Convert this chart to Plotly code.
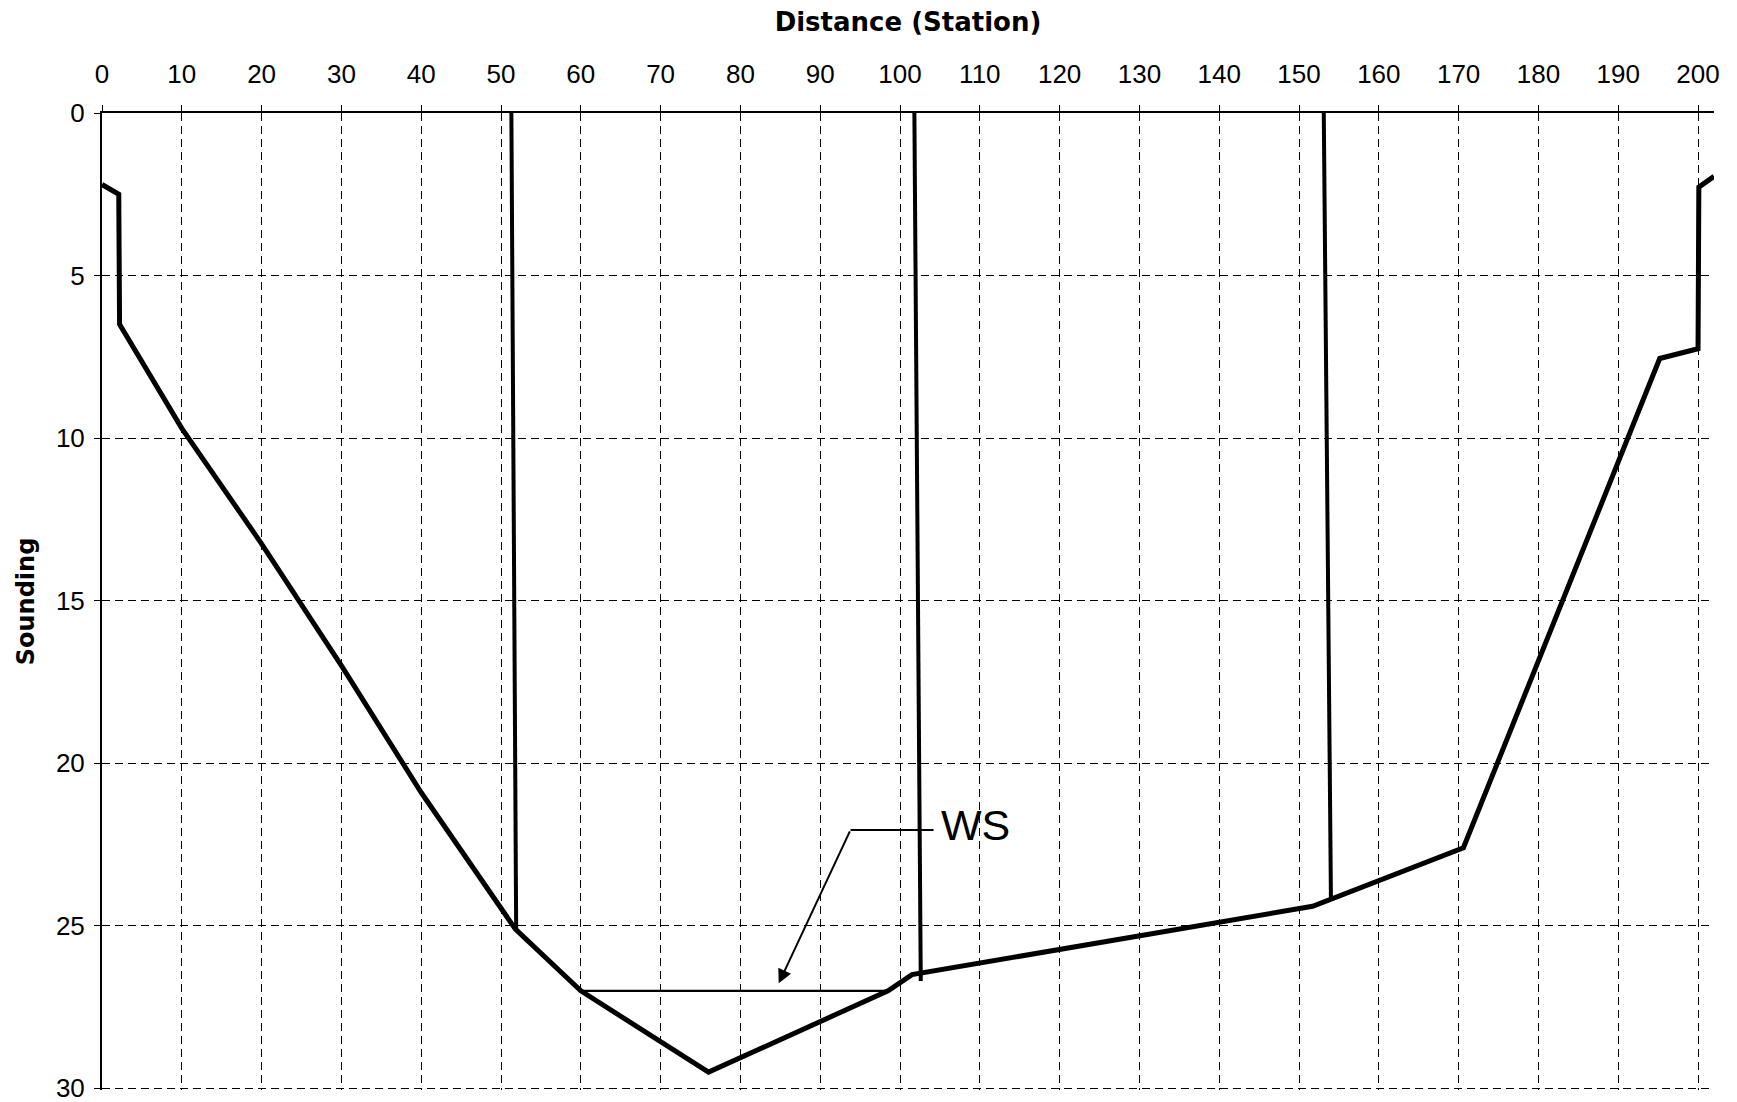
import plotly.graph_objects as go

# ---- data ----
profile_station = [0, 2.1, 2.2, 10, 20, 30, 40, 51.8, 60, 76, 98.5, 101.5, 151.7, 170.6, 195.2, 200.0, 200.1, 202]
profile_sounding = [2.2, 2.5, 6.5, 9.7, 13.25, 17.0, 20.9, 25.1, 27.0, 29.5, 27.0, 26.5, 24.4, 22.6, 7.55, 7.25, 2.28, 1.95]

divider_station_top = [51.3, 101.8, 153.1]
divider_station_bottom = [51.9, 102.6, 154.0]
divider_sounding_top = [0, 0, 0]
divider_sounding_bottom = [25.1, 26.7, 24.2]

ws_station = [59.9, 98.4]
ws_sounding = [27.0, 27.0]

label_text = "WS"
leader_station = [104.2, 93.8, 84.8]
leader_sounding = [22.05, 22.05, 26.77]

x_ticks = list(range(0, 201, 10))
y_ticks = [0, 5, 10, 15, 20, 25, 30]
x_title = "Distance (Station)"
y_title = "Sounding"

# ---- figure ----
fig = go.Figure()

fig.add_trace(go.Scatter(x=profile_station, y=profile_sounding, mode="lines",
                         line=dict(color="black", width=5), hoverinfo="skip", showlegend=False))

dx, dy = [], []
for xt, xb, yt, yb in zip(divider_station_top, divider_station_bottom, divider_sounding_top, divider_sounding_bottom):
    dx += [xt, xb, None]
    dy += [yt, yb, None]
fig.add_trace(go.Scatter(x=dx, y=dy, mode="lines", line=dict(color="black", width=4),
                         hoverinfo="skip", showlegend=False))

fig.add_trace(go.Scatter(x=ws_station, y=ws_sounding, mode="lines",
                         line=dict(color="black", width=2.2), hoverinfo="skip", showlegend=False))

fig.add_trace(go.Scatter(x=leader_station[:2], y=leader_sounding[:2], mode="lines",
                         line=dict(color="black", width=2), hoverinfo="skip", showlegend=False))

fig.add_annotation(x=leader_station[2], y=leader_sounding[2], ax=leader_station[1], ay=leader_sounding[1],
                   xref="x", yref="y", axref="x", ayref="y", text="", showarrow=True,
                   arrowhead=2, arrowsize=1.4, arrowwidth=2, arrowcolor="black", standoff=0)
fig.add_annotation(x=leader_station[0], y=leader_sounding[0], xref="x", yref="y", text=label_text,
                   showarrow=False, xanchor="left", yanchor="middle", xshift=5, yshift=5,
                   font=dict(family="Liberation Sans, Arial", size=43, color="black"))

grid = dict(showgrid=True, gridcolor="black", gridwidth=1.3, griddash="8px,5px",
            showline=True, linecolor="black", linewidth=2, zeroline=False,
            ticks="outside", ticklen=6, tickwidth=1.3, tickcolor="black",
            ticklabeloverflow="allow", automargin=False,
            tickfont=dict(family="Liberation Sans, Arial", size=26, color="black"))

fig.update_xaxes(side="top", range=[0, 202], tickvals=x_ticks, ticktext=[str(v) for v in x_ticks],
                 ticklabelstandoff=12,
                 title=dict(text="<b>" + x_title + "</b>", standoff=19,
                            font=dict(family="DejaVu Sans", size=26, color="black")),
                 **grid)
fig.update_yaxes(range=[30.05, 0], tickvals=y_ticks, ticktext=[str(v) for v in y_ticks],
                 ticklabelstandoff=4,
                 title=dict(text="<b>" + y_title + "</b>", standoff=14,
                            font=dict(family="DejaVu Sans", size=24, color="black")),
                 **grid)

fig.update_layout(width=1737, height=1102, autosize=False,
                  margin=dict(l=102, r=23, t=113, b=12),
                  paper_bgcolor="white", plot_bgcolor="white",
                  showlegend=False)

fig.write_html("out.html", config={"displayModeBar": False},
               post_script="document.body.style.margin='0';document.body.style.overflow='hidden';")
